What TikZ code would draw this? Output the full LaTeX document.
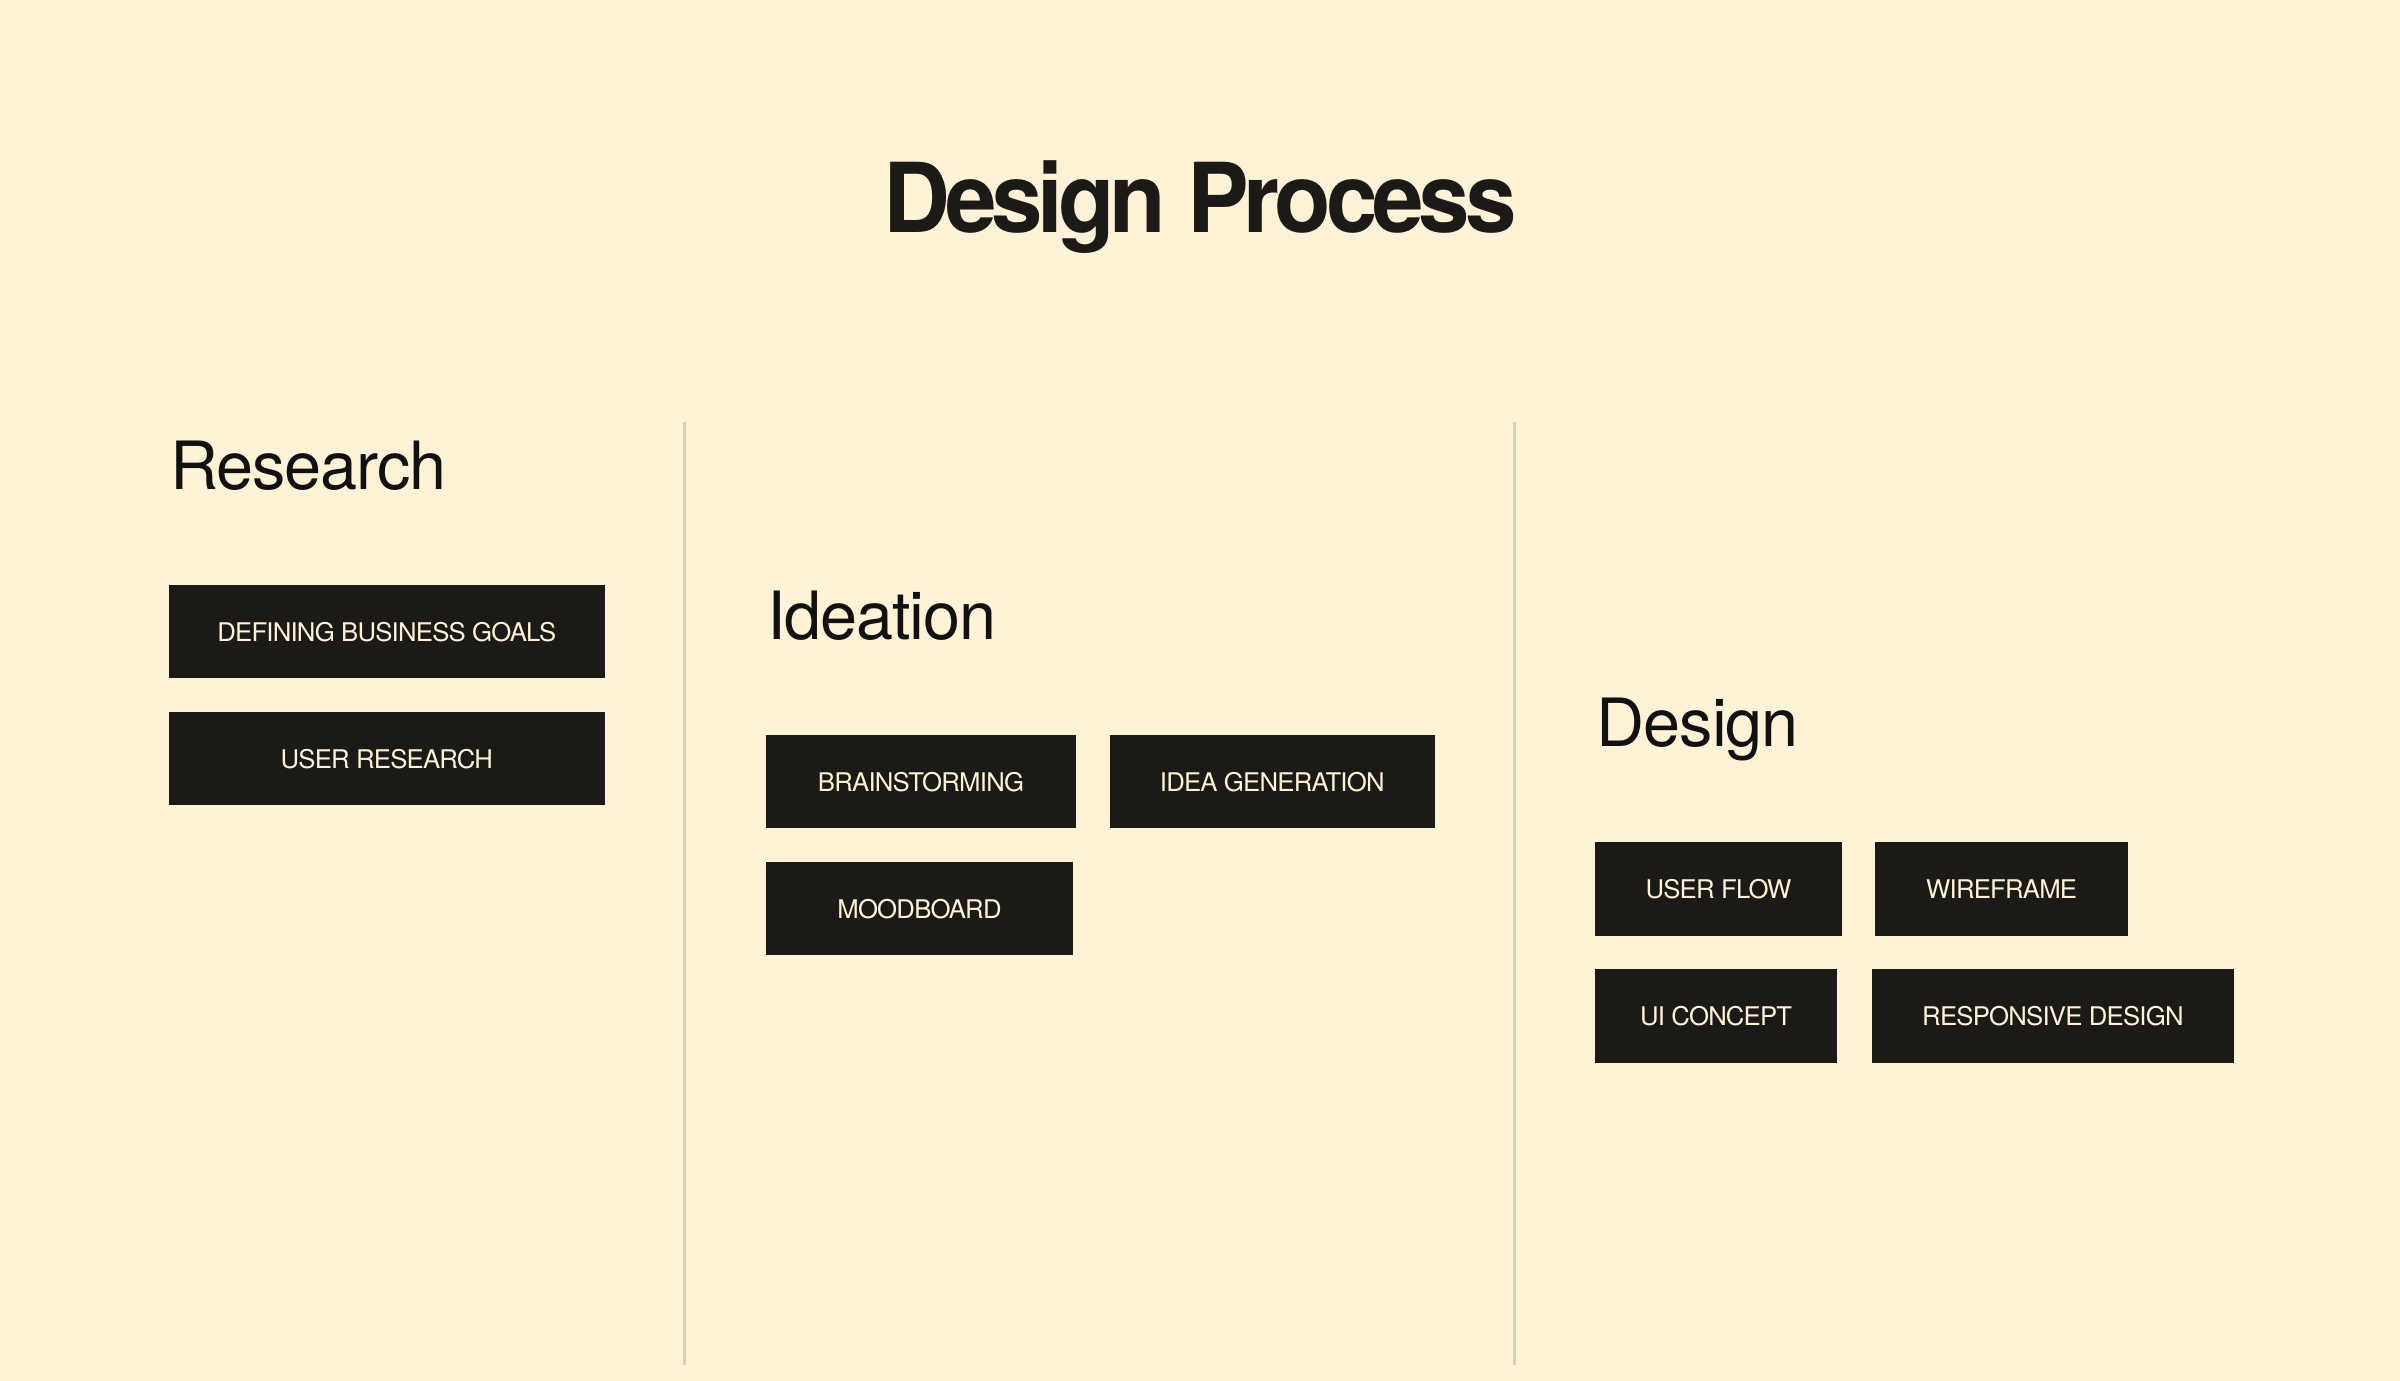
\documentclass[tikz,border=0pt]{standalone}
\usepackage{fontspec}
\setmainfont{TeX Gyre Heros}
\newfontfamily\titlefont{TeX Gyre Heros}[LetterSpace=-5.5]
\newfontfamily\headfont{TeX Gyre Heros}[LetterSpace=-1.6]
\newfontfamily\tagfont{TeX Gyre Heros}[LetterSpace=-3]
\definecolor{bg}{HTML}{FEF3D7}
\definecolor{ink}{HTML}{1C1A16}
\definecolor{headink}{HTML}{111111}
\definecolor{boxc}{HTML}{1C1A16}
\definecolor{linec}{HTML}{D9D0BA}
\tikzset{
  stage/.style={anchor=base west, inner sep=0pt, text=headink, font=\headfont\fontsize{43.5}{50}\selectfont},
  tagbox/.style={anchor=north west, fill=boxc, text=bg, minimum height=61pt, inner sep=0pt, font=\tagfont\fontsize{16.8}{20}\selectfont},
  divider/.style={draw=linec, line width=2pt}
}
\begin{document}
\begin{tikzpicture}[x=1pt, y=-1pt]
  \fill[bg] (0,0) rectangle (1568,902);
  \useasboundingbox (0,0) rectangle (1568,902);

  % title
  \node[anchor=base, inner sep=0pt, text=ink, font=\titlefont\bfseries\fontsize{63}{70}\selectfont] (title) at (784,152) {\scalebox{0.96}[1]{Design Process}};

  % dividers
  \coordinate (d1t) at (447.5,276);
  \coordinate (d1b) at (447.5,892);
  \coordinate (d2t) at (989.5,276);
  \coordinate (d2b) at (989.5,892);
  \draw[divider] (d1t) -- (d1b);
  \draw[divider] (d2t) -- (d2b);

  % stage headings
  \node[stage] (research) at (111,320) {Research};
  \node[stage] (ideation) at (501,418) {Ideation};
  \node[stage] (design) at (1043,488) {Design};

  % research boxes
  \node[tagbox, minimum width=285pt] (goals) at (110,382) {DEFINING BUSINESS GOALS};
  \node[tagbox, minimum width=285pt] (userres) at (110,465) {USER RESEARCH};

  % ideation boxes
  \node[tagbox, minimum width=203pt] (brain) at (500,480) {BRAINSTORMING};
  \node[tagbox, minimum width=212pt] (ideagen) at (725,480) {IDEA GENERATION};
  \node[tagbox, minimum width=201pt] (mood) at (500,563) {MOODBOARD};

  % design boxes
  \node[tagbox, minimum width=161pt] (uflow) at (1042,550) {USER FLOW};
  \node[tagbox, minimum width=165pt] (wire) at (1225,550) {WIREFRAME};
  \node[tagbox, minimum width=158pt] (uic) at (1042,633) {UI CONCEPT};
  \node[tagbox, minimum width=236pt] (resp) at (1223,633) {RESPONSIVE DESIGN};
\end{tikzpicture}
\end{document}
